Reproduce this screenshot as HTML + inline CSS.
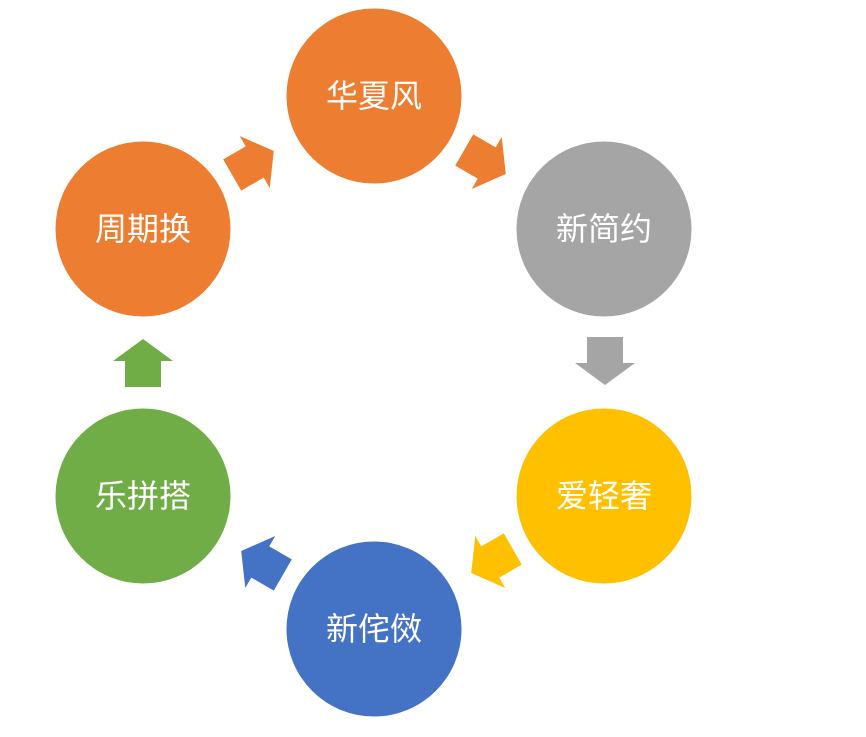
<!DOCTYPE html>
<html><head><meta charset="utf-8"><style>
html,body{margin:0;padding:0;background:#fff;}
svg{display:block}
text{font-family:"Liberation Sans","Noto Sans CJK SC",sans-serif;font-size:32px;fill:#fff;text-anchor:middle;dominant-baseline:central}
</style></head><body>
<svg width="866" height="737" viewBox="0 0 866 737">
<defs><path id="a" d="M-24,-18 L2,-18 L2,-30 L24,0 L2,30 L2,18 L-24,18 Z"/></defs>
<use href="#a" fill="#ED7D31" transform="translate(253,163) rotate(-30)"/>
<use href="#a" fill="#ED7D31" transform="translate(485,162) rotate(30)"/>
<use href="#a" fill="#A5A5A5" transform="translate(605,361) rotate(90)"/>
<use href="#a" fill="#FFC000" transform="translate(492,561) rotate(150)"/>
<use href="#a" fill="#4472C4" transform="translate(262,563) rotate(210)"/>
<use href="#a" fill="#70AD47" transform="translate(143,363) rotate(-90)"/>
<circle cx="374" cy="96" r="87.5" fill="#ED7D31"/>
<circle cx="604" cy="229" r="87.5" fill="#A5A5A5"/>
<circle cx="604" cy="496" r="87.5" fill="#FFC000"/>
<circle cx="374" cy="629" r="87.5" fill="#4472C4"/>
<circle cx="143" cy="496" r="87.5" fill="#70AD47"/>
<circle cx="143" cy="229" r="87.5" fill="#ED7D31"/>
<text x="374" y="96">华夏风</text>
<text x="604" y="229">新简约</text>
<text x="604" y="496">爱轻奢</text>
<text x="374" y="629">新侘傚</text>
<text x="143" y="496">乐拼搭</text>
<text x="143" y="229">周期换</text>
</svg>
</body></html>
